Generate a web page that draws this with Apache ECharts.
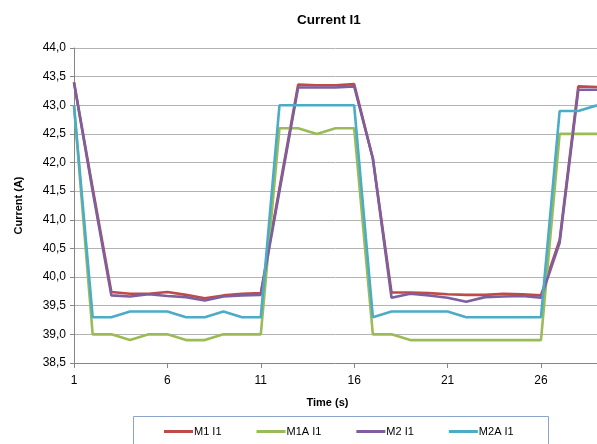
<!DOCTYPE html>
<html>
<head>
<meta charset="utf-8">
<script src="https://cdn.jsdelivr.net/npm/echarts@6/dist/echarts.min.js"></script>
<style>
html,body{margin:0;padding:0;background:#fff;}
#chart{width:597px;height:444px;}
</style>
</head>
<body>
<div id="chart"></div>
<script>
var timeCategories = [1,2,3,4,5,6,7,8,9,10,11,12,13,14,15,16,17,18,19,20,21,22,23,24,25,26,27,28,29];
var seriesNames = ['M1 I1','M1A I1','M2 I1','M2A I1'];
var m1 = [43.40,41.55,39.74,39.71,39.71,39.74,39.69,39.63,39.68,39.71,39.72,41.55,43.36,43.35,43.35,43.37,42.07,39.73,39.73,39.72,39.70,39.69,39.69,39.71,39.70,39.68,40.65,43.33,43.32];
var m1a = [43.0,39.0,39.0,38.9,39.0,39.0,38.9,38.9,39.0,39.0,39.0,42.6,42.6,42.5,42.6,42.6,39.0,39.0,38.9,38.9,38.9,38.9,38.9,38.9,38.9,38.9,42.5,42.5,42.5];
var m2 = [43.40,41.5,39.68,39.66,39.70,39.67,39.65,39.59,39.66,39.68,39.69,41.5,43.31,43.31,43.31,43.33,42.07,39.64,39.71,39.68,39.64,39.57,39.65,39.66,39.67,39.64,40.6,43.27,43.27];
var m2a = [43.0,39.3,39.3,39.4,39.4,39.4,39.3,39.3,39.4,39.3,39.3,43.0,43.0,43.0,43.0,43.0,39.3,39.4,39.4,39.4,39.4,39.3,39.3,39.3,39.3,39.3,42.9,42.9,43.0];
var colors = ['#BE4B48','#9BBB59','#7D5FA0','#4BACC6'];

var font = 'Liberation Sans, Arial, sans-serif';
var chart = echarts.init(document.getElementById('chart'));
function mk(name, data, color) {
  return {
    name: name, type: 'line', data: data, symbol: 'none',
    lineStyle: {color: color, width: 2.6}, itemStyle: {color: color},
    animation: false
  };
}
chart.setOption({
  animation: false,
  title: {
    text: 'Current I1', left: 292, top: 8,
    textStyle: {fontFamily: font, fontSize: 13.5, fontWeight: 'bold', color: '#000'}
  },
  grid: {left: 74, right: 0, top: 48, bottom: 81, containLabel: false},
  legend: {
    data: seriesNames, left: 159, top: 421, itemWidth: 29, itemHeight: 3,
    itemGap: 35, icon: 'rect',
    textStyle: {fontFamily: font, fontSize: 11, color: '#000', padding: [0,0,0,-4]}
  },
  graphic: [{
    type: 'rect', shape: {x: 133.5, y: 416.5, width: 415, height: 30},
    style: {fill: 'none', stroke: '#8EA3C8', lineWidth: 1}, silent: true
  }],
  xAxis: {
    type: 'category', data: timeCategories, boundaryGap: false,
    name: 'Time (s)', nameLocation: 'middle', nameGap: 34,
    nameTextStyle: {fontFamily: font, fontSize: 11, fontWeight: 'bold', color: '#000', padding: [0,0,0,-16]},
    axisLine: {lineStyle: {color: '#868686', width: 1}},
    axisTick: {show: true, interval: 4, length: 5, lineStyle: {color: '#868686'}},
    axisLabel: {interval: 4, fontFamily: font, fontSize: 12, color: '#000', margin: 12},
    splitLine: {show: false}
  },
  yAxis: {
    type: 'value', min: 38.5, max: 44, interval: 0.5,
    name: 'Current (A)', nameLocation: 'middle', nameGap: 50, nameRotate: 90,
    nameTextStyle: {fontFamily: font, fontSize: 11, fontWeight: 'bold', color: '#000'},
    axisLine: {show: true, lineStyle: {color: '#868686', width: 1}},
    axisTick: {show: true, length: 4, lineStyle: {color: '#868686'}},
    axisLabel: {
      fontFamily: font, fontSize: 12, color: '#000', margin: 8,
      formatter: function (v) { return v.toFixed(1).replace('.', ','); }
    },
    splitLine: {show: true, lineStyle: {color: '#B3B3B3', width: 1}}
  },
  series: [mk(seriesNames[0], m1, colors[0]), mk(seriesNames[1], m1a, colors[1]),
           mk(seriesNames[2], m2, colors[2]), mk(seriesNames[3], m2a, colors[3])]
});
</script>
</body>
</html>
